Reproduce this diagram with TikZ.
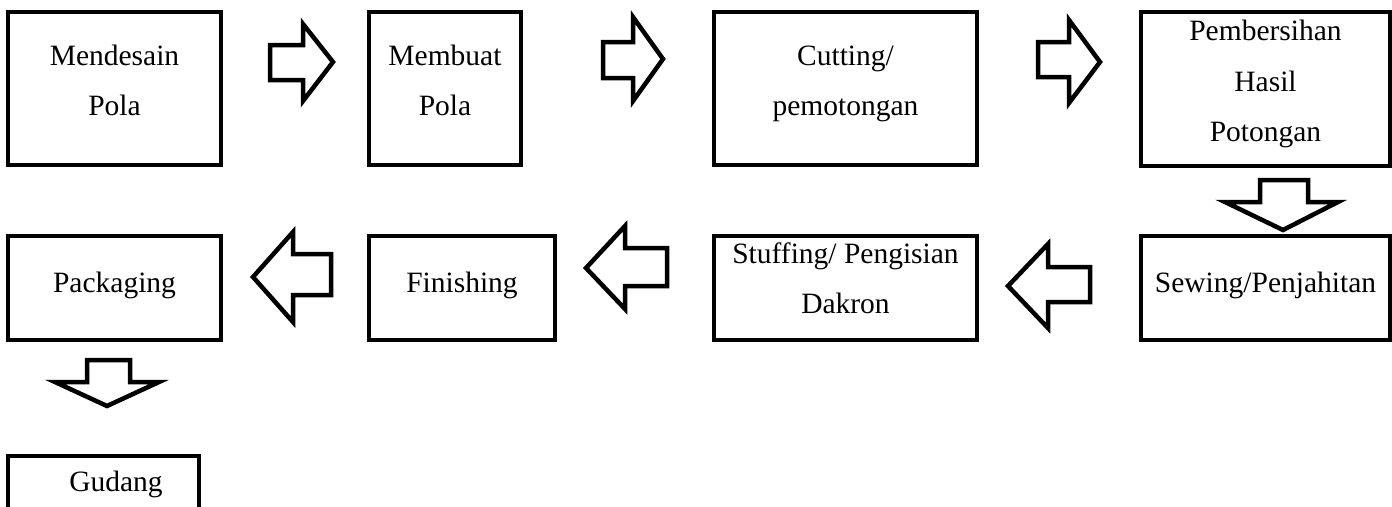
\documentclass[tikz,border=0pt]{standalone}
\usepackage{fontspec}
\setmainfont{Liberation Serif}
\begin{document}
\begin{tikzpicture}[x=1pt,y=-1pt,
  box/.style={draw=black,line width=3.2pt,rectangle,inner sep=0pt,outer sep=0pt},
  txt/.style={anchor=base,inner sep=0pt,font=\fontsize{29.5}{50}\selectfont},
  blockarrow/.style={draw=black,line width=4.5pt,line join=miter,fill=white}]
\useasboundingbox (0,0) rectangle (1392,506);
% boxes row 1
\node[box,minimum width=213pt,minimum height=153pt] (b1) at (114.5,88.5) {};
\node[box,minimum width=152pt,minimum height=153pt] (b2) at (445,88.5) {};
\node[box,minimum width=263pt,minimum height=153pt] (b3) at (845.5,88.5) {};
\node[box,minimum width=249pt,minimum height=154pt] (b4) at (1265.5,89) {};
% boxes row 2
\node[box,minimum width=213pt,minimum height=104pt] (b5) at (114.5,288) {};
\node[box,minimum width=186pt,minimum height=104pt] (b6) at (462,288) {};
\node[box,minimum width=263pt,minimum height=104pt] (b7) at (845.5,288) {};
\node[box,minimum width=249pt,minimum height=104pt] (b8) at (1265.5,288) {};
% Gudang box (continues below page)
\node[box,minimum width=191pt,minimum height=100pt] (b9) at (103.5,506) {};
% texts
\node[txt] (t1a) at (114.5,65) {Mendesain};
\node[txt] (t1b) at (114.5,115) {Pola};
\node[txt] (t2a) at (445,65) {Membuat};
\node[txt] (t2b) at (445,115) {Pola};
\node[txt] (t3a) at (845.5,65) {Cutting/};
\node[txt] (t3b) at (845.5,115) {pemotongan};
\node[txt] (t4a) at (1265.5,40) {Pembersihan};
\node[txt] (t4b) at (1265.5,91) {Hasil};
\node[txt] (t4c) at (1265.5,141) {Potongan};
\node[txt] (t5) at (114.5,292) {Packaging};
\node[txt] (t6) at (462,292) {Finishing};
\node[txt] (t7a) at (845.5,263) {Stuffing/ Pengisian};
\node[txt] (t7b) at (845.5,313) {Dakron};
\node[txt] (t8) at (1265.5,292) {Sewing/Penjahitan};
\node[txt] (t9) at (116,491) {Gudang};
% block arrows
\draw[blockarrow] (270,45) -- (303,45) -- (303,24) -- (333,62) -- (303,101) -- (303,80) -- (270,80) -- cycle;
\draw[blockarrow] (603,42) -- (633,42) -- (633,17) -- (663,59) -- (633,101) -- (633,78) -- (603,78) -- cycle;
\draw[blockarrow] (1038,42) -- (1069,42) -- (1069,20) -- (1100,62) -- (1069,103) -- (1069,77) -- (1038,77) -- cycle;
\draw[blockarrow] (1260,180) -- (1308,180) -- (1308,202) -- (1338,202) -- (1283,230) -- (1225,202) -- (1260,202) -- cycle;
\draw[blockarrow] (1090,267) -- (1048,267) -- (1048,244) -- (1008,286) -- (1048,328) -- (1048,302) -- (1090,302) -- cycle;
\draw[blockarrow] (667,248) -- (625,248) -- (625,226) -- (586,268) -- (625,309) -- (625,286) -- (667,286) -- cycle;
\draw[blockarrow] (331,254) -- (293,254) -- (293,232) -- (253,277) -- (293,322) -- (293,295) -- (331,295) -- cycle;
\draw[blockarrow] (87,360) -- (130,360) -- (130,382) -- (159,382) -- (107,406) -- (55,382) -- (87,382) -- cycle;
\end{tikzpicture}
\end{document}
